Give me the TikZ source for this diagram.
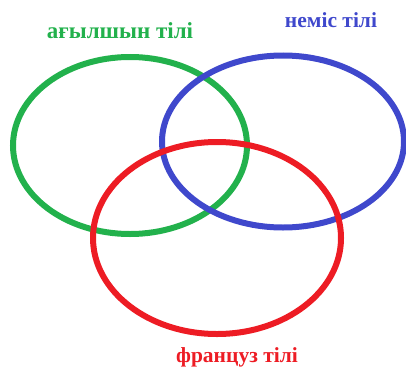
\documentclass[tikz,border=0pt]{standalone}
\usepackage{fontspec}
\setmainfont{Liberation Serif}
\usepackage{tikz}
\usetikzlibrary{positioning}
\definecolor{cgreen}{HTML}{22B14C}
\definecolor{cblue}{HTML}{3F48CC}
\definecolor{cred}{HTML}{ED1C24}

\begin{document}
\begin{tikzpicture}[x=1pt,y=-1pt,
  ring/.style={line width=6pt},
  lab/.style={font=\bfseries\fontsize{21.5}{26}\selectfont,inner sep=0pt}]
\useasboundingbox (0,0) rectangle (406,369);
\draw[ring,cgreen] (130,145.5) ellipse [x radius=117,y radius=88.5];
\draw[ring,cblue] (283,141.5) ellipse [x radius=121,y radius=86];
\draw[ring,cred] (217,238) ellipse [x radius=124,y radius=96];
\node[lab,text=cgreen,font=\bfseries\fontsize{23}{27}\selectfont] (eng) at (120,31) {ағылшын тілі};
\node[lab,text=cblue] (ger) at (331,20) {неміс тілі};
\node[lab,text=cred] (fra) at (237,357) {француз тілі};
\end{tikzpicture}
\end{document}
